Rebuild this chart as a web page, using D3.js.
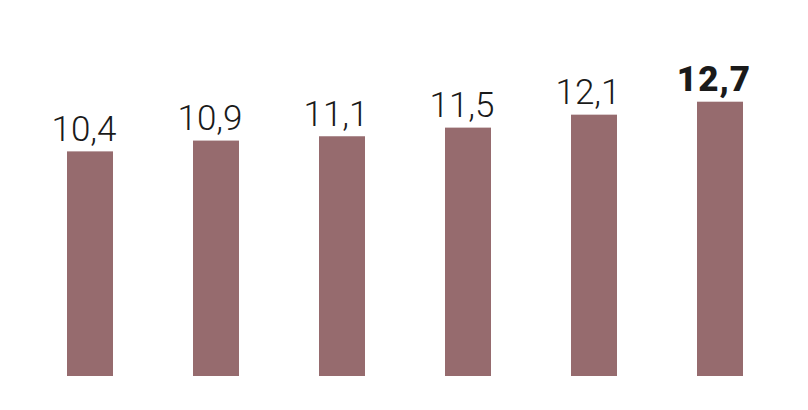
<!DOCTYPE html>
<html>
<head>
<meta charset="utf-8">
<script src="https://cdn.jsdelivr.net/npm/d3@7"></script>
<style>
  body { margin: 0; background: #fff; }
</style>
</head>
<body>
<div id="chart"></div>
<script>
var categories = ["a", "b", "c", "d", "e", "f"];
var values = [10.4, 10.9, 11.1, 11.5, 12.1, 12.7];
var labels = ["10,4", "10,9", "11,1", "11,5", "12,1", "12,7"];

var width = 808, height = 410;
var baseline = 376;

var svg = d3.select("#chart").append("svg")
  .attr("width", width)
  .attr("height", height);

// 6 bars, 46px wide, 126px apart, first starts at x=67
var x = d3.scaleBand()
  .domain(categories)
  .range([67, 743])
  .paddingInner(0.635)
  .paddingOuter(0);

var y = d3.scaleLinear()
  .domain([0, 12.7])
  .range([baseline, 101.7]);

var data = categories.map(function(c, i) {
  return { cat: c, v: values[i], label: labels[i], last: i === categories.length - 1 };
});

svg.selectAll("rect")
  .data(data)
  .enter()
  .append("rect")
  .attr("x", function(d) { return x(d.cat); })
  .attr("y", function(d) { return y(d.v); })
  .attr("width", x.bandwidth())
  .attr("height", function(d) { return baseline - y(d.v); })
  .attr("fill", "#966b6e");

// labels sit a little left of the bar centre in the original
svg.selectAll("text.val")
  .data(data)
  .enter()
  .append("text")
  .attr("class", "val")
  .attr("x", function(d) { return x(d.cat) + x.bandwidth() / 2 - 6; })
  .attr("y", function(d) { return y(d.v) - 10.5; })
  .attr("text-anchor", "middle")
  .attr("font-family", "Roboto, sans-serif")
  .attr("font-size", "35px")
  .attr("font-weight", function(d) { return d.last ? 900 : 300; })
  .attr("letter-spacing", function(d) { return d.last ? "1px" : "0px"; })
  .attr("fill", "#1a1a1a")
  .text(function(d) { return d.label; });
</script>
</body>
</html>
